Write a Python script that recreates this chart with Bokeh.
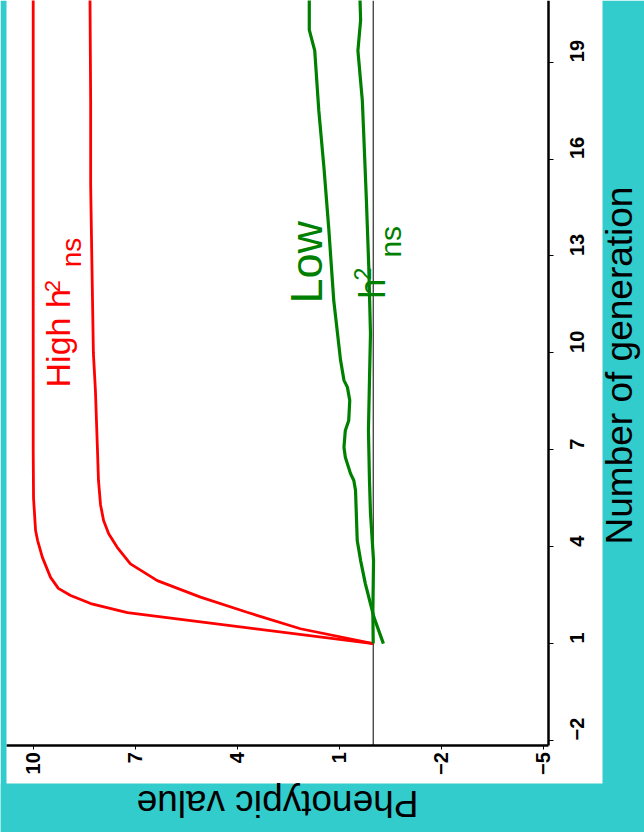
import math
from bokeh.plotting import figure
from bokeh.models import Range1d, LinearAxis, FixedTicker, Label, ColumnDataSource, BoxAnnotation
from bokeh.core.properties import value
from bokeh.embed import file_html
from bokeh.resources import INLINE

# ---------------- data ----------------
generation_ticks = [-2, 1, 4, 7, 10, 13, 16, 19]
generation_tick_labels = ["\u22122", "1", "4", "7", "10", "13", "16", "19"]
phenotype_ticks = [10, 7, 4, 1, -2, -5]
phenotype_tick_labels = ["10", "7", "4", "1", "\u22122", "\u22125"]

# High heritability, fast response
high_fast_gen = [1, 1.96, 2.24, 2.49, 2.71, 3.05, 3.67, 4.19, 4.5, 5.5, 7, 10, 15, 21]
high_fast_val = [0, 7.23, 8.31, 8.90, 9.26, 9.49, 9.73, 9.87, 9.93, 9.99, 10.0, 10.0, 10.0, 10.0]

# High heritability, slower response
high_slow_gen = [1, 1.46, 1.97, 2.44, 2.95, 3.47, 3.98, 4.4, 4.81, 5.3, 6.05, 7.0, 8.84, 10.0,
                 13.2, 15.2, 17.8, 21]
high_slow_val = [0, 2.14, 3.71, 5.08, 6.35, 7.14, 7.53, 7.78, 7.93, 8.02, 8.08, 8.11, 8.17, 8.23,
                 8.28, 8.31, 8.31, 8.33]

# Low heritability, rising
low_a_gen = [1, 1.82, 2.85, 3.57, 4.19, 5.74, 6.05, 6.27, 6.77, 7.08, 7.6, 7.91, 8.53, 8.94, 9.15,
             9.77, 11.62, 13.89, 15.75, 17.5, 19.36, 20.0, 21]
low_a_val = [-0.30, -0.02, 0.23, 0.37, 0.47, 0.52, 0.57, 0.67, 0.82, 0.86, 0.82, 0.72, 0.69, 0.76, 0.86,
             0.96, 1.16, 1.31, 1.45, 1.60, 1.72, 1.88, 1.88]

# Low heritability, flat
low_b_gen = [1, 2, 3.57, 5.03, 6.05, 7.6, 9.15, 10.6, 12.65, 14.72, 16.8, 17.81, 19.36, 20.3, 21]
low_b_val = [0, 0.01, -0.01, 0.08, 0.11, 0.14, 0.11, 0.08, 0.13, 0.20, 0.28, 0.32, 0.45, 0.37, 0.39]

reference_value = 0

# ---------------- layout constants ----------------
TEAL = "#33CCCC"
RED = "#FF0000"
GREEN = "#008000"
FONT = "Liberation Sans"

x_left, x_right = 10.9618, -7.979     # phenotype (reversed, drawn horizontally)
y_bottom, y_top = -4.848, 20.910      # generation (drawn vertically)
axis_x_at = -5.17                     # where the generation axis sits
axis_y_at = -2.146                    # where the phenotype axis sits
white_left = 10.785                   # start of white area (phenotype units)
white_right = -6.744                  # end of white area (phenotype units)
white_bottom = -3.331                 # end of white area (generation units)

p = figure(width=644, height=832, output_backend="svg", toolbar_location=None,
           x_range=Range1d(x_left, x_right), y_range=Range1d(y_bottom, y_top),
           x_axis_location=None, y_axis_location=None,
           min_border=0, min_border_left=0, min_border_top=0, min_border_right=0, min_border_bottom=0,
           border_fill_color=TEAL, background_fill_color="white", outline_line_color=None)
p.xgrid.visible = False
p.ygrid.visible = False

# reference line at 0
p.segment(x0=[reference_value], y0=[axis_y_at], x1=[reference_value], y1=[y_top],
          line_color="black", line_width=1)

# series
p.line(high_fast_val, high_fast_gen, line_color=RED, line_width=2.8)
p.line(high_slow_val, high_slow_gen, line_color=RED, line_width=2.8)
p.line(low_a_val, low_a_gen, line_color=GREEN, line_width=3.2)
p.line(low_b_val, low_b_gen, line_color=GREEN, line_width=3.2)

# teal surround
p.add_layout(BoxAnnotation(right=white_left, fill_color=TEAL, fill_alpha=1, line_color=None))
p.add_layout(BoxAnnotation(left=white_right, fill_color=TEAL, fill_alpha=1, line_color=None))
p.add_layout(BoxAnnotation(top=white_bottom, fill_color=TEAL, fill_alpha=1, line_color=None))

# axes placed inside the white area
gen_axis = LinearAxis(fixed_location=axis_x_at, ticker=FixedTicker(ticks=generation_ticks),
                      bounds=(axis_y_at, y_top),
                      major_label_overrides={t: l for t, l in zip(generation_ticks, generation_tick_labels)})
phen_axis = LinearAxis(fixed_location=axis_y_at, ticker=FixedTicker(ticks=phenotype_ticks),
                       bounds=(axis_x_at, white_left),
                       major_label_overrides={t: l for t, l in zip(phenotype_ticks, phenotype_tick_labels)})
for ax, tick_out, standoff in ((gen_axis, 5, 23), (phen_axis, 4, 3)):
    ax.axis_line_width = 2.5
    ax.axis_line_color = "black"
    ax.major_tick_out = tick_out
    ax.major_tick_in = 0
    ax.minor_tick_out = 0
    ax.minor_tick_in = 0
    ax.major_tick_line_color = "black"
    ax.major_label_text_font = FONT
    ax.major_label_text_font_style = "bold"
    ax.major_label_text_font_size = "20px"
    ax.major_label_text_color = "black"
    ax.major_label_orientation = math.pi / 2
    ax.major_label_standoff = standoff
p.add_layout(gen_axis, "right")
p.add_layout(phen_axis, "below")

# axis titles
p.add_layout(Label(x=-7.23, y=9.61, text="Number of generation",
                   angle=math.pi / 2, text_align="center", text_baseline="middle",
                   text_font=FONT, text_font_size="37px", text_color="black"))
p.add_layout(Label(x=2.815, y=-3.95, text="Phenotypic value",
                   angle=math.pi, text_align="center", text_baseline="middle",
                   text_font=FONT, text_font_size="37px", text_color="black"))

# in-plot labels
label_text = ["High h", "2", "ns", "Low", "h", "2", "ns"]
label_val = [9.28, 9.44, 8.86, 1.95, 0.01, 0.31, -0.50]
label_gen = [8.93, 11.88, 12.65, 11.53, 11.68, 12.24, 12.95]
label_size = ["34px", "22px", "28px", "45px", "36px", "23px", "30px"]
label_color = [RED, RED, RED, GREEN, GREEN, GREEN, GREEN]
src = ColumnDataSource(dict(x=label_val, y=label_gen, text=label_text, size=label_size, color=label_color))
p.text(x="x", y="y", text="text", source=src, angle=math.pi / 2, text_align="left",
       text_baseline="middle", text_font=value(FONT), text_font_size="size", text_color="color")

open("out.html", "w").write(file_html(p, INLINE))
